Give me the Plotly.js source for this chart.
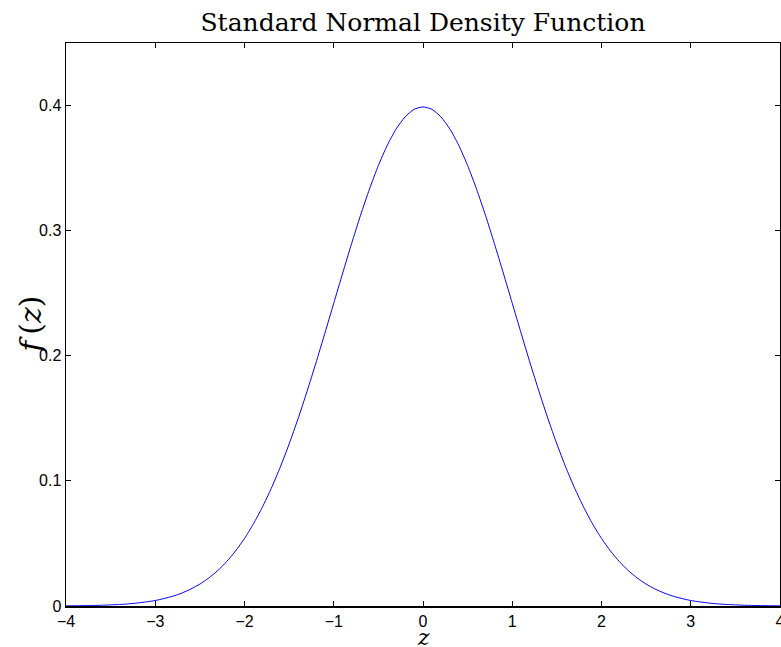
<!DOCTYPE html>
<html>
<head>
<meta charset="utf-8">
<script src="https://cdn.plot.ly/plotly-3.0.1.min.js"></script>
<style>html,body{margin:0;padding:0;background:#fff;}#chart{width:781px;height:647px;}</style>
</head>
<body>
<div id="chart"></div>
<script>
// z values
const zValues = [-4.0,-3.9,-3.8,-3.7,-3.6,-3.5,-3.4,-3.3,-3.2,-3.1,-3.0,-2.9,-2.8,-2.7,-2.6,-2.5,-2.4,-2.3,-2.2,-2.1,-2.0,-1.9,-1.8,-1.7,-1.6,-1.5,-1.4,-1.3,-1.2,-1.1,-1.0,-0.9,-0.8,-0.7,-0.6,-0.5,-0.4,-0.3,-0.2,-0.1,0.0,0.1,0.2,0.3,0.4,0.5,0.6,0.7,0.8,0.9,1.0,1.1,1.2,1.3,1.4,1.5,1.6,1.7,1.8,1.9,2.0,2.1,2.2,2.3,2.4,2.5,2.6,2.7,2.8,2.9,3.0,3.1,3.2,3.3,3.4,3.5,3.6,3.7,3.8,3.9,4.0];
// density values
const densityValues = [0.0001,0.0002,0.0003,0.0004,0.0006,0.0009,0.0012,0.0017,0.0024,0.0033,0.0044,0.0060,0.0079,0.0104,0.0136,0.0175,0.0224,0.0283,0.0355,0.0440,0.0540,0.0656,0.0790,0.0940,0.1109,0.1295,0.1497,0.1714,0.1942,0.2179,0.2420,0.2661,0.2897,0.3123,0.3332,0.3521,0.3683,0.3814,0.3910,0.3970,0.3989,0.3970,0.3910,0.3814,0.3683,0.3521,0.3332,0.3123,0.2897,0.2661,0.2420,0.2179,0.1942,0.1714,0.1497,0.1295,0.1109,0.0940,0.0790,0.0656,0.0540,0.0440,0.0355,0.0283,0.0224,0.0175,0.0136,0.0104,0.0079,0.0060,0.0044,0.0033,0.0024,0.0017,0.0012,0.0009,0.0006,0.0004,0.0003,0.0002,0.0001];
const xTicks = [-4,-3,-2,-1,0,1,2,3,4];
const xTickLabels = ['\u22124','\u22123','\u22122','\u22121','0','1','2','3','4'];
const yTicks = [0,0.1,0.2,0.3,0.4];
const yTickLabels = ['0','0.1','0.2','0.3','0.4'];
const xLabel = '<i>z</i>';
const yLabel = '<i>f</i>\u2009(<i>z</i>)';

const serif = 'DejaVu Serif, serif';
const sans = 'Liberation Sans, Arial, sans-serif';

const trace = {
  x: zValues, y: densityValues, type: 'scatter', mode: 'lines',
  line: {color: '#0000ff', width: 1, shape: 'spline', smoothing: 0.6},
  hoverinfo: 'skip', showlegend: false
};

const axisCommon = {
  showline: true, linecolor: '#000', linewidth: 1.5, mirror: 'ticks',
  ticks: 'inside', ticklen: 5, tickwidth: 1, tickcolor: '#000',
  showgrid: false, zeroline: false, ticklabeloverflow: 'allow',
  tickfont: {family: sans, size: 16, color: '#000'}
};

const layout = {
  width: 781, height: 647,
  margin: {l: 66, r: 1, t: 43, b: 41, pad: 0},
  paper_bgcolor: '#fff', plot_bgcolor: '#fff',
  title: {text: 'Standard Normal Density Function', font: {family: serif, size: 25, color: '#000'},
          x: 0.5, xanchor: 'center', y: 0.966, yanchor: 'middle', xref: 'paper'},
  xaxis: Object.assign({}, axisCommon, {
    range: [-4, 4], tickmode: 'array', tickvals: xTicks, ticktext: xTickLabels
  }),
  yaxis: Object.assign({}, axisCommon, {
    range: [0, 0.45], tickmode: 'array', tickvals: yTicks, ticktext: yTickLabels
  }),
  annotations: [
    {text: xLabel, xref: 'paper', yref: 'paper', x: 0.5, y: -0.056, xanchor: 'center', yanchor: 'middle',
     showarrow: false, font: {family: serif, size: 22, color: '#000'}},
    {text: yLabel, xref: 'paper', yref: 'paper', x: -0.05, y: 0.5, xanchor: 'center', yanchor: 'middle',
     textangle: -90, showarrow: false, font: {family: serif, size: 30, color: '#000'}}
  ]
};

Plotly.newPlot('chart', [trace], layout, {displayModeBar: false, staticPlot: true});
</script>
</body>
</html>
